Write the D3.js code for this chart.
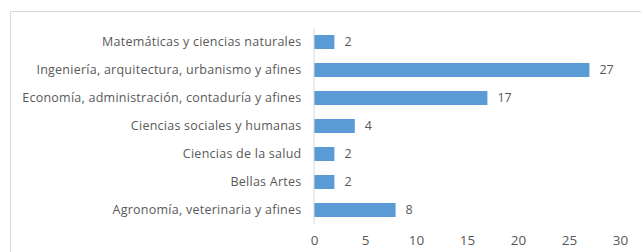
<!doctype html>
<html lang="es">
<head>
  <meta charset="utf-8">
  <title>Bar chart - D3</title>
  <style>
    body { margin: 0; background: #fff; }
    svg { display: block; }
    text { font-family: "Open Sans", "Liberation Sans", sans-serif; fill: #595959; }
  </style>
</head>
<body>
  <svg></svg>
  <script src="https://cdn.jsdelivr.net/npm/d3@7/dist/d3.min.js"></script>
  <script>
    const categories = [
      'Matemáticas y ciencias naturales',
      'Ingeniería, arquitectura, urbanismo y afines',
      'Economía, administración, contaduría y afines',
      'Ciencias sociales y humanas',
      'Ciencias de la salud',
      'Bellas Artes',
      'Agronomía, veterinaria y afines'
    ];
    const values = [2, 27, 17, 4, 2, 2, 8];
    const xTicks = [0, 5, 10, 15, 20, 25, 30];

    const width = 641;
    const height = 252;
    const margin = { top: 28, right: 21, bottom: 28, left: 314 };

    const svg = d3.select('svg')
      .attr('width', width)
      .attr('height', height);

    // chart frame
    svg.append('rect')
      .attr('x', 10.5)
      .attr('y', 11.5)
      .attr('width', width)
      .attr('height', height)
      .attr('fill', 'none')
      .attr('stroke', '#d9d9d9');

    const x = d3.scaleLinear()
      .domain([0, 30])
      .range([margin.left, width - margin.right]);

    const y = d3.scaleBand()
      .domain(categories)
      .range([margin.top, height - margin.bottom])
      .paddingInner(0.5)
      .paddingOuter(0.25);

    // x axis labels
    svg.append('g')
      .attr('transform', 'translate(0,' + (height - 11) + ')')
      .call(d3.axisBottom(x).tickValues(xTicks).tickSize(0).tickPadding(0))
      .call(g => g.select('.domain').remove())
      .call(g => g.selectAll('text')
        .attr('dy', '0.32em')
        .attr('font-size', 13.5)
        .attr('fill', '#595959'));

    // bars
    svg.append('g')
      .selectAll('rect')
      .data(values)
      .join('rect')
      .attr('x', x(0))
      .attr('y', (v, i) => y(categories[i]))
      .attr('width', v => x(v) - x(0))
      .attr('height', y.bandwidth())
      .attr('fill', '#5b9bd5');

    // value labels
    svg.append('g')
      .selectAll('text')
      .data(values)
      .join('text')
      .attr('x', v => x(v) + 10)
      .attr('y', (v, i) => y(categories[i]) + y.bandwidth() / 2)
      .attr('dy', '0.35em')
      .attr('font-size', 12.5)
      .attr('fill', '#404040')
      .text(v => v);

    // y axis line + category labels
    svg.append('g')
      .attr('transform', 'translate(' + (x(0) - 0.5) + ',0)')
      .call(d3.axisLeft(y).tickSize(0).tickPadding(12))
      .call(g => g.select('.domain').attr('stroke', '#d9d9d9'))
      .call(g => g.selectAll('text')
        .attr('font-size', 12.5)
        .attr('letter-spacing', 0.25)
        .attr('fill', '#595959'));
  </script>
</body>
</html>
